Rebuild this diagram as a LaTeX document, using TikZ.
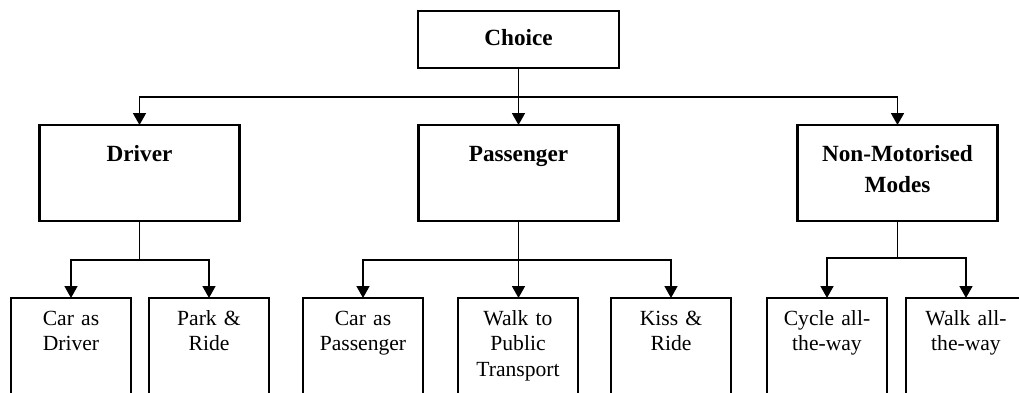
\documentclass[tikz,border=0pt]{standalone}
\usepackage{fontspec}
\setmainfont{Liberation Serif}
\usetikzlibrary{arrows.meta,positioning}
\tikzset{
  topbox/.style={draw, line width=1.3pt, inner sep=0pt, outer sep=0pt, align=center,
    text width=100.5pt, text height=17pt, text depth=11.5pt,
    font=\fontsize{11.6}{15.5}\selectfont\bfseries},
  catbox/.style={topbox, text width=100pt, text height=18pt, text depth=30pt},
  modebox/.style={draw, line width=1.3pt, inner sep=0pt, outer sep=0pt, align=center,
    text width=60pt, text height=13.75pt, text depth=47pt,
    font=\fontsize{10.8}{12.7}\selectfont},
  arr/.style={-{Triangle[length=6pt,width=6.5pt]}, line width=0.85pt},
  link/.style={line width=0.85pt}
}
\begin{document}
\begin{tikzpicture}[x=0.5pt, y=-0.5pt, node distance=89.5pt]
    \path[use as bounding box, clip] (0,0) rectangle (1019,392);
    \node[topbox, anchor=north] (choice) at (518.5,11) {Choice};
    \node[catbox, below=28.5pt of choice] (passenger) {Passenger};
    \node[catbox, left=of passenger] (driver) {Driver};
    \node[catbox, right=of passenger] (nonmot) {Non-Motorised\\Modes};
    \node[modebox, anchor=north west] (cardrv) at (11,298) {Car as\\Driver};
    \node[modebox, right=9pt of cardrv] (parkride) {Park \&\\Ride};
    \node[modebox, right=17pt of parkride] (carpass) {Car as\\Passenger};
    \node[modebox, right=17.5pt of carpass] (walkpt) {Walk to\\Public\\Transport};
    \node[modebox, right=16.5pt of walkpt] (kissride) {Kiss \&\\Ride};
    \node[modebox, right=18pt of kissride] (cycle) {Cycle all-\\the-way};
    \node[modebox, right=9.5pt of cycle] (walkall) {Walk all-\\the-way};
    \coordinate[below=14.5pt of choice] (topsplit);
    \draw[arr] (choice) -- (passenger);
    \draw[arr] (topsplit) -| (driver);
    \draw[arr] (topsplit) -| (nonmot);
    \coordinate[below=19.5pt of driver] (drvsplit);
    \draw[link] (driver) -- (drvsplit);
    \draw[arr] (drvsplit) -| (cardrv);
    \draw[arr] (drvsplit) -| (parkride);
    \coordinate[below=19.5pt of passenger] (passsplit);
    \draw[arr] (passenger.south) -- (passenger.south |- walkpt.north);
    \draw[arr] (passsplit) -| (carpass);
    \draw[arr] (passsplit) -| (kissride);
    \coordinate[below=18.5pt of nonmot] (nmsplit);
    \draw[link] (nonmot) -- (nmsplit);
    \draw[arr] (nmsplit) -| (cycle);
    \draw[arr] (nmsplit) -| (walkall);
  \end{tikzpicture}
\end{document}
